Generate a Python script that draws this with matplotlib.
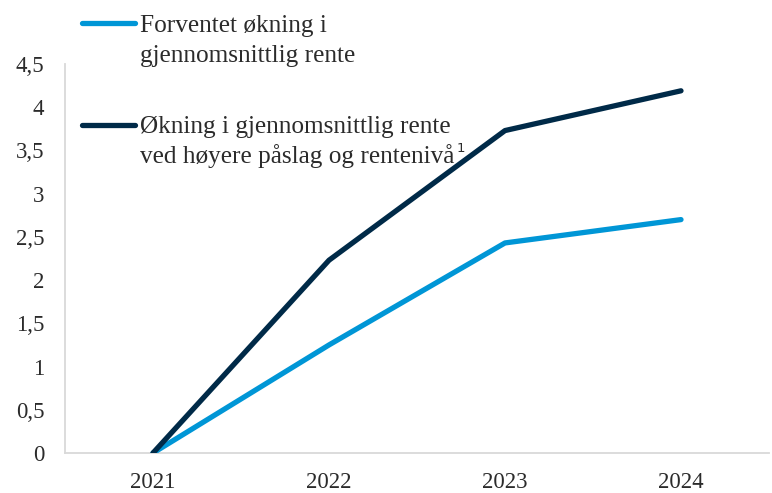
import matplotlib
matplotlib.use("Agg")
import matplotlib.pyplot as plt
from matplotlib.lines import Line2D
from matplotlib.ticker import FuncFormatter

years = ["2021", "2022", "2023", "2024"]
forventet = [0, 1.25, 2.43, 2.70]
hoyere = [0, 2.23, 3.73, 4.19]
yticks = [0, 0.5, 1, 1.5, 2, 2.5, 3, 3.5, 4, 4.5]

light = "#0096D6"
dark = "#002A48"
txt = "#2b2b2b"
font = "Liberation Serif"
plt.rcParams["font.family"] = [font, "DejaVu Serif"]

W, H = 772, 493
fig = plt.figure(figsize=(W / 100, H / 100), dpi=100)
ax = fig.add_axes([65 / W, 1 - 453 / H, (769 - 65) / W, (453 - 64) / H])

x = list(range(len(years)))
ax.plot(x, forventet, color=light, lw=3.8, solid_capstyle="round", zorder=3)
ax.plot(x, hoyere, color=dark, lw=3.8, solid_capstyle="round", zorder=4)

ax.set_xlim(-0.5, len(years) - 0.5)
ax.set_ylim(0, 4.5)
ax.set_xticks(x)
ax.set_xticklabels(years)
ax.set_yticks(yticks)
ax.yaxis.set_major_formatter(FuncFormatter(lambda v, p: ("%g" % v).replace(".", ",")))
ax.tick_params(length=0, labelsize=16.5, colors=txt)
ax.tick_params(axis="y", pad=15)
ax.tick_params(axis="x", pad=14)
for s in ["top", "right"]:
    ax.spines[s].set_visible(False)
for s in ["left", "bottom"]:
    ax.spines[s].set_color("#d9d9d9")
    ax.spines[s].set_linewidth(1.3)

# legend (manual)
def fx(px):
    return px / W
def fy(py):
    return 1 - py / H

fig.add_artist(Line2D([fx(82), fx(135)], [fy(23), fy(23)], color=light, lw=3.8, solid_capstyle="round"))
fig.add_artist(Line2D([fx(82), fx(135)], [fy(125), fy(125)], color=dark, lw=3.8, solid_capstyle="round"))
fs = 18.2
fig.text(fx(140), fy(32), "Forventet økning i", fontsize=fs, color=txt, va="baseline")
fig.text(fx(140), fy(62), "gjennomsnittlig rente", fontsize=fs, color=txt, va="baseline")
fig.text(fx(140), fy(133), "Økning i gjennomsnittlig rente", fontsize=fs, color=txt, va="baseline")
t = fig.text(fx(140), fy(163), "ved høyere påslag og rentenivå", fontsize=fs, color=txt, va="baseline")
fig.canvas.draw()
bb = t.get_window_extent()
fig.text(bb.x1 / W + 2 / W, fy(152), "1", fontsize=9.5, color=txt, va="baseline", family="DejaVu Sans")

fig.savefig("out.png", dpi=100)
